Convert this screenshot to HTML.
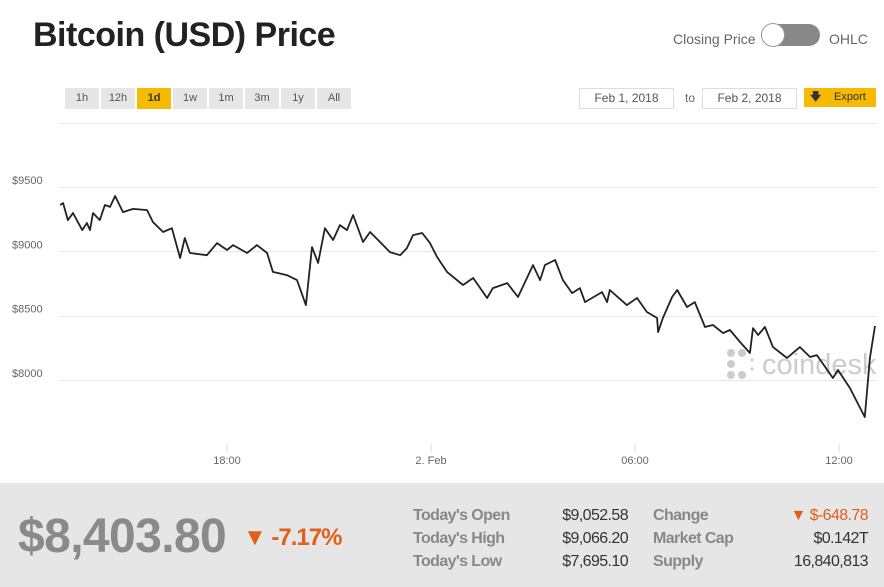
<!DOCTYPE html>
<html><head><meta charset="utf-8"><style>
*{margin:0;padding:0;box-sizing:border-box}
body{width:884px;height:587px;background:#fff;font-family:"Liberation Sans",sans-serif;position:relative;overflow:hidden}
.a{position:absolute}
.btn{position:absolute;top:88px;width:34px;height:21px;background:#e6e6e6;color:#555;font-size:11px;text-align:center;line-height:21px}
.btn.on{background:#f6bb00;color:#333;font-weight:bold}
.lab{font-size:16px;font-weight:bold;color:#888;letter-spacing:-0.6px}
.val{font-size:16px;color:#333;letter-spacing:-0.6px;text-align:right}
</style></head><body>
<div class="a" style="left:33px;top:16px;font-size:34px;font-weight:bold;color:#222;letter-spacing:-0.5px">Bitcoin (USD) Price</div>
<div class="a" style="left:673px;top:31px;font-size:14px;color:#666">Closing Price</div>
<div class="a" style="left:761px;top:24px;width:59px;height:22px;border-radius:11px;background:#888"><div style="position:absolute;left:0;top:-1px;width:24px;height:24px;border-radius:12px;background:#fff;border:1px solid #999"></div></div>
<div class="a" style="left:829px;top:31px;font-size:14px;color:#666">OHLC</div>

<div class="btn" style="left:65px">1h</div>
<div class="btn" style="left:101px">12h</div>
<div class="btn on" style="left:137px">1d</div>
<div class="btn" style="left:173px">1w</div>
<div class="btn" style="left:209px">1m</div>
<div class="btn" style="left:245px">3m</div>
<div class="btn" style="left:281px">1y</div>
<div class="btn" style="left:317px">All</div>

<div class="a" style="left:579px;top:88px;width:95px;height:21px;border:1px solid #ddd;font-size:12px;color:#555;text-align:center;line-height:19px">Feb 1, 2018</div>
<div class="a" style="left:685px;top:91px;font-size:12px;color:#666">to</div>
<div class="a" style="left:702px;top:88px;width:95px;height:21px;border:1px solid #ddd;font-size:12px;color:#555;text-align:center;line-height:19px">Feb 2, 2018</div>
<div class="a" style="left:804px;top:88px;width:72px;height:19px;background:#f6bb00;font-size:11px;color:#333;line-height:19px"><span style="position:absolute;left:6px;font-weight:bold">&#129095;</span><span style="position:absolute;left:30px">Export</span></div>

<svg class="a" style="left:0;top:0" width="884" height="483">
<g id="grid"></g>
<g fill="#ccc">
<circle cx="731" cy="353" r="4"/><circle cx="731" cy="364" r="4"/><circle cx="731" cy="375" r="4"/><circle cx="742" cy="353" r="4"/><circle cx="742" cy="375" r="4"/><circle cx="752" cy="360" r="1.5"/><circle cx="752" cy="369" r="1.5"/>
<text x="762" y="374" font-size="29" font-family="Liberation Sans">coindesk</text>
</g>
<g id="plot"></g>
</svg>

<div class="a" style="left:0;top:483px;width:884px;height:104px;background:#e6e6e6"></div>
<div class="a" style="left:18px;top:509px;font-size:48px;font-weight:bold;color:#8a8a8a;letter-spacing:-0.6px">$8,403.80</div>
<div class="a" style="left:243px;top:524px;font-size:24px;font-weight:bold;color:#e0601a;letter-spacing:-1px">&#9660; -7.17%</div>
<div class="a lab" style="left:413px;top:507px">Today's Open</div>
<div class="a lab" style="left:413px;top:530px">Today's High</div>
<div class="a lab" style="left:413px;top:553px">Today's Low</div>
<div class="a val" style="right:256px;top:507px">$9,052.58</div>
<div class="a val" style="right:256px;top:530px">$9,066.20</div>
<div class="a val" style="right:256px;top:553px">$7,695.10</div>
<div class="a lab" style="left:653px;top:507px">Change</div>
<div class="a lab" style="left:653px;top:530px">Market Cap</div>
<div class="a lab" style="left:653px;top:553px">Supply</div>
<div class="a val" style="right:16px;top:507px;color:#e0601a">&#9660; $-648.78</div>
<div class="a val" style="right:16px;top:530px">$0.142T</div>
<div class="a val" style="right:16px;top:553px">16,840,813</div>

<script>
const hours=[13.09,13.18,13.32,13.47,13.74,13.88,13.97,14.06,14.26,14.41,14.56,14.71,14.94,15.24,15.65,15.82,16.12,16.38,16.62,16.76,16.91,17.41,17.71,18,18.18,18.59,18.88,19.18,19.35,19.76,20.06,20.32,20.5,20.68,20.88,21.12,21.32,21.53,21.71,22,22.21,22.5,22.79,23.09,23.29,23.47,23.74,23.97,24.18,24.47,24.94,25.24,25.65,25.82,26.24,26.56,27,27.21,27.35,27.65,27.88,28.15,28.38,28.53,29.03,29.18,29.26,29.76,30.06,30.35,30.65,30.68,30.82,31.09,31.24,31.53,31.76,32.06,32.29,32.59,32.79,33.09,33.38,33.47,33.62,33.82,34.06,34.47,34.85,35.15,35.35,35.82,35.97,36.32,36.76,36.91,37.06];
const prices=[9360,9375,9243,9298,9165,9220,9165,9298,9243,9360,9345,9430,9305,9330,9320,9228,9150,9180,8948,9103,8987,8970,9064,9010,9048,8987,9048,8987,8840,8815,8776,8582,9033,8910,9180,9088,9204,9165,9282,9072,9150,9072,8994,8970,9025,9126,9142,9064,8956,8840,8738,8792,8637,8714,8753,8645,8893,8776,8893,8932,8776,8675,8714,8605,8683,8605,8699,8582,8637,8528,8481,8372,8481,8645,8699,8567,8605,8411,8427,8364,8388,8294,8209,8403,8349,8411,8255,8170,8255,8178,8193,8015,8077,7937,7711,8170,8419];
const yTicks=[8000,8500,9000,9500];
const yTickLabels=["$8000","$8500","$9000","$9500"];
const xTicks=[18,24,30,36];
const xTickLabels=["18:00","2. Feb","06:00","12:00"];
const X=h=>227+(h-18)*34;
const Y=p=>187+(9500-p)*64.3/500;
const NS="http://www.w3.org/2000/svg";
const gridG=document.getElementById('grid'),plotG=document.getElementById('plot');
function mk(tag,at,parent){const e=document.createElementNS(NS,tag);for(const k in at)e.setAttribute(k,at[k]);parent.appendChild(e);return e;}
const topBorder=mk('line',{x1:60,x2:876,y1:123.5,y2:123.5,stroke:'#e6e6e6'},gridG);


yTicks.forEach((v,i)=>{
  const l=mk('line',{x1:60,x2:876,y1:Math.round(Y(v))+.5,y2:Math.round(Y(v))+.5,stroke:'#e6e6e6'},gridG);
  
  
  const t=mk('text',{x:12,y:Y(v)-3,'font-size':11,fill:'#666','font-family':'Liberation Sans'},gridG);
  t.textContent=yTickLabels[i];
  
  
});
xTicks.forEach((v,i)=>{
  const l=mk('line',{x1:X(v),x2:X(v),y1:444,y2:452,stroke:'#ddd'},gridG);
  
  
  const t=mk('text',{x:X(v),y:464,'font-size':11,fill:'#666','text-anchor':'middle','font-family':'Liberation Sans'},gridG);
  t.textContent=xTickLabels[i];
  
  
});
const d=hours.map((h,i)=>(i?'L':'M')+X(h).toFixed(1)+','+Y(prices[i]).toFixed(1)).join('');
const line=mk('path',{d:d,fill:'none',stroke:'#222','stroke-width':1.8,'stroke-linejoin':'round'},plotG);


</script>
</body></html>
